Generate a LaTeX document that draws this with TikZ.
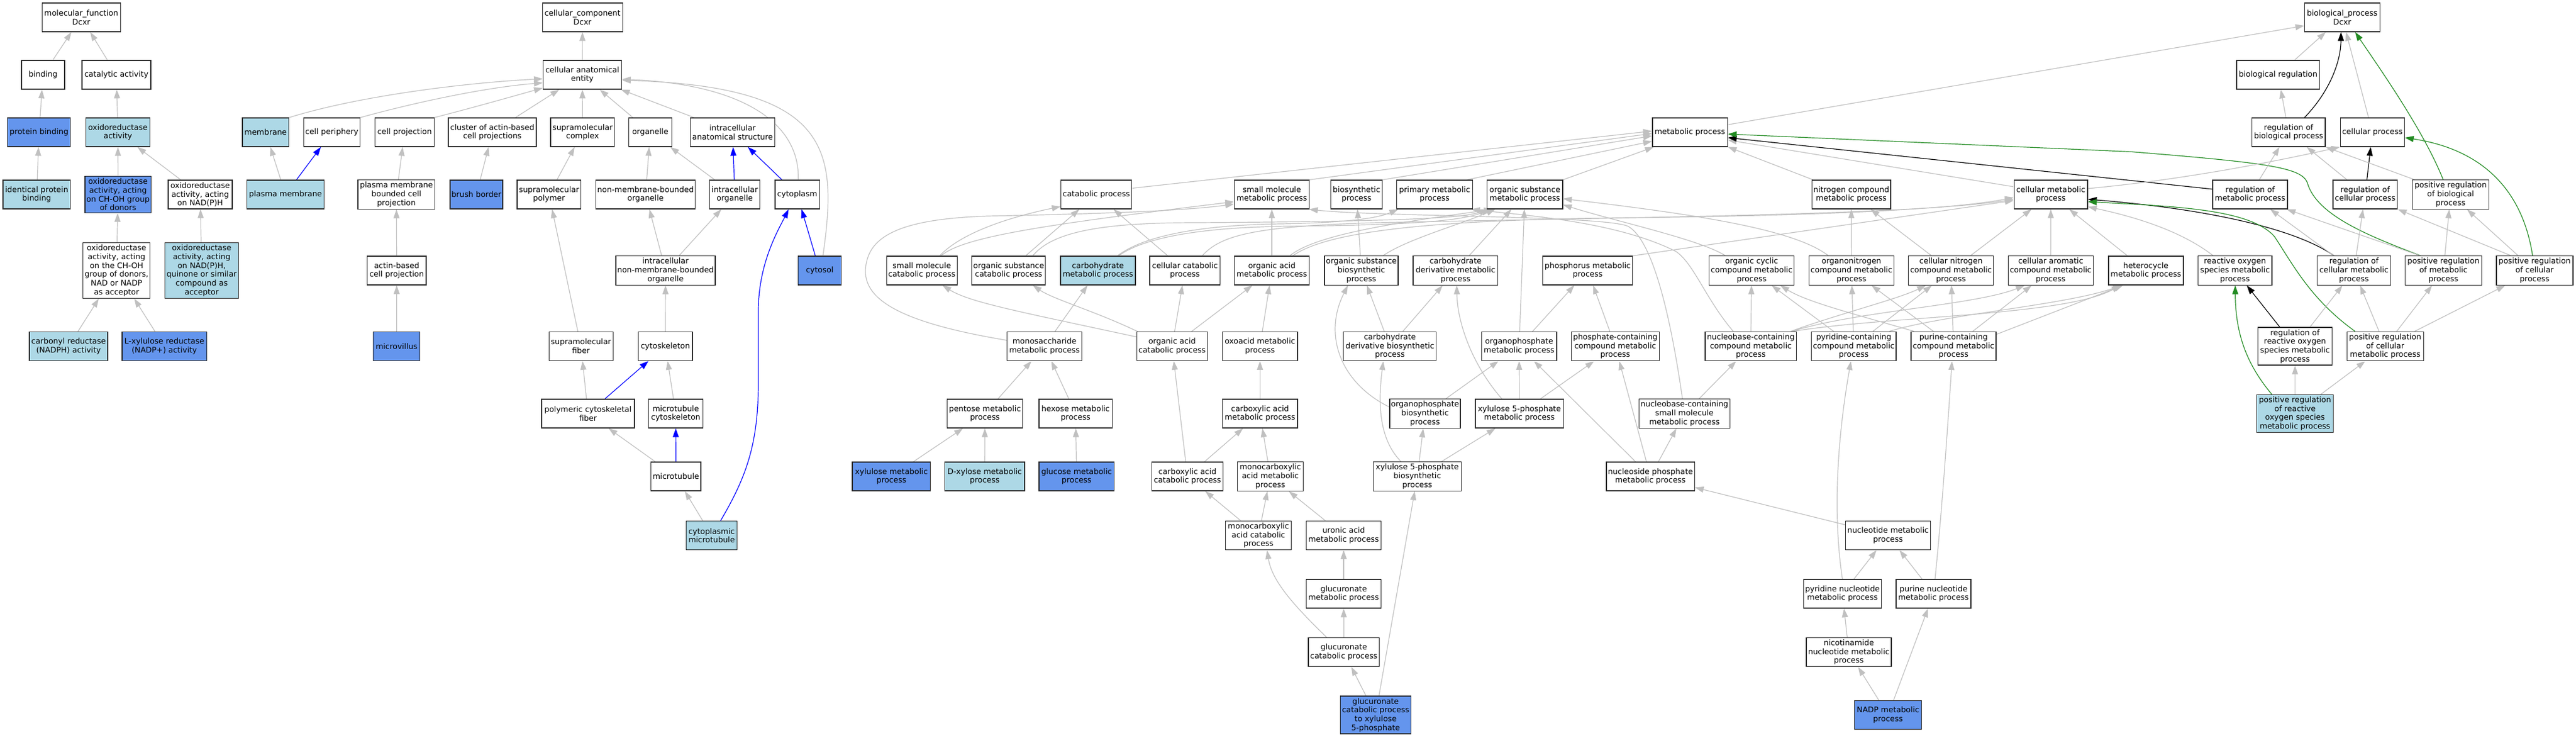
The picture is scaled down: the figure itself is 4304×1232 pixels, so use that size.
\documentclass[tikz,border=0pt]{standalone}
\usepackage{fontspec}
\setmainfont{DejaVu Sans}
\usetikzlibrary{arrows.meta,calc}
\definecolor{egray}{RGB}{192,192,192}
\definecolor{lb}{RGB}{173,216,230}
\definecolor{cf}{RGB}{100,149,237}
\definecolor{fgreen}{RGB}{34,139,34}
\definecolor{nborder}{RGB}{40,40,40}
\pgfdeclarelayer{bglayer}
\pgfdeclarelayer{edgelayer}
\pgfsetlayers{bglayer,edgelayer,main}
\tikzset{
 gn/.style={draw=nborder, line width=1pt, rectangle, fill=white, inner xsep=1pt, inner ysep=2.5pt, align=center, minimum height=36pt, font=\fontsize{9.7}{11}\selectfont, text=black},
 lbfill/.style={fill=lb},
 cffill/.style={fill=cf},
 bwid/.style={minimum width=#1*0.75pt},
 arr/.style={line width=0.9pt, -{Triangle[length=11pt,width=7.5pt]}},
 ge/.style={arr, draw=egray},
 be/.style={arr, draw=blue},
 ke/.style={arr, draw=black},
 gre/.style={arr, draw=fgreen},
}
\begin{document}
\begin{tikzpicture}[x=0.75pt,y=-0.75pt]
\begin{pgfonlayer}{bglayer}
\fill[white] (0,0) rectangle (4304,1232);
\end{pgfonlayer}
\useasboundingbox (0,0) rectangle (4304,1232);
% ---------------- molecular function
\node[gn,bwid=131] (mf) at (135.7,29) {molecular\_function\\Dcxr};
\node[gn,bwid=72] (binding) at (71.9,125) {binding};
\node[gn,bwid=115] (catal) at (194.5,125) {catalytic activity};
\node[gn,cffill,bwid=105] (pbind) at (65.2,221) {protein binding};
\node[gn,lbfill,bwid=107] (oxred) at (197,221) {oxidoreductase\\activity};
\node[gn,lbfill,bwid=112.5] (ident) at (61.3,325) {identical protein\\binding};
\node[gn,cffill,bwid=110.6] (choh) at (197.2,325) {oxidoreductase\\activity, acting\\on CH-OH group\\of donors};
\node[gn,bwid=107] (nadph) at (334.5,325) {oxidoreductase\\activity, acting\\on NAD(P)H};
\node[gn,bwid=112] (nadacc) at (194.7,452) {oxidoreductase\\activity, acting\\on the CH-OH\\group of donors,\\NAD or NADP\\as acceptor};
\node[gn,lbfill,bwid=123] (quin) at (337,452) {oxidoreductase\\activity, acting\\on NAD(P)H,\\quinone or similar\\compound as\\acceptor};
\node[gn,lbfill,bwid=131] (carb) at (114.6,578.5) {carbonyl reductase\\(NADPH) activity};
\node[gn,cffill,bwid=141.4] (lxyl) at (274.6,578.5) {L-xylulose reductase\\(NADP+) activity};
% ---------------- cellular component
\node[gn,bwid=134] (cc) at (973.2,29) {cellular\_component\\Dcxr};
\node[gn,bwid=131] (cae) at (973,125) {cellular anatomical\\entity};
\node[gn,lbfill,bwid=77.6] (membrane) at (443.8,221) {membrane};
\node[gn,bwid=94] (cperi) at (554.5,221) {cell periphery};
\node[gn,bwid=98.5] (cproj) at (676,221) {cell projection};
\node[gn,bwid=147] (cluster) at (822.6,221) {cluster of actin-based\\cell projections};
\node[gn,bwid=106.5] (smc) at (973.3,221) {supramolecular\\complex};
\node[gn,bwid=72] (organelle) at (1086.5,221) {organelle};
\node[gn,bwid=141.5] (ias) at (1224,221) {intracellular\\anatomical structure};
\node[gn,lbfill,bwid=129.5] (pm) at (477,325) {plasma membrane};
\node[gn,bwid=128.7] (pmbcp) at (662.3,325) {plasma membrane\\bounded cell\\projection};
\node[gn,cffill,bwid=88] (brush) at (796,325) {brush border};
\node[gn,bwid=106.5] (smp) at (917.3,325) {supramolecular\\polymer};
\node[gn,bwid=166] (nmbo) at (1078.6,325) {non-membrane-bounded\\organelle};
\node[gn,bwid=83.6] (iorg) at (1227.6,325) {intracellular\\organelle};
\node[gn,bwid=74.3] (cytoplasm) at (1332,325) {cytoplasm};
\node[gn,bwid=98.7] (actin) at (662.8,452) {actin-based\\cell projection};
\node[gn,bwid=166] (inmbo) at (1112,452) {intracellular\\non-membrane-bounded\\organelle};
\node[gn,cffill,bwid=72.6] (cytosol) at (1369.5,452) {cytosol};
\node[gn,cffill,bwid=78] (microvillus) at (662.6,578.5) {microvillus};
\node[gn,bwid=107] (smf) at (970.7,578.5) {supramolecular\\fiber};
\node[gn,bwid=90.6] (cytosk) at (1111.7,578.5) {cytoskeleton};
\node[gn,bwid=155] (pcf) at (982.4,691) {polymeric cytoskeletal\\fiber};
\node[gn,bwid=90.5] (mtcs) at (1129,691) {microtubule\\cytoskeleton};
\node[gn,bwid=83.5] (mt) at (1129.3,796) {microtubule};
\node[gn,lbfill,bwid=85.5] (cmt) at (1189,894.5) {cytoplasmic\\microtubule};
% ---------------- biological process
\node[gn,bwid=125.7] (bp) at (3913.3,29) {biological\_process\\Dcxr};
\node[gn,bwid=138.5] (bioreg) at (3806.3,125) {biological regulation};
\node[gn,bwid=125.4] (metab) at (2823.5,221) {metabolic process};
\node[gn,bwid=122.4] (regbio) at (3823.8,221) {regulation of\\biological process};
\node[gn,bwid=107.2] (cellproc) at (3963.8,221) {cellular process};
\node[gn,bwid=118] (catab) at (1831.8,325) {catabolic process};
\node[gn,bwid=125] (smm) at (2125,325) {small molecule\\metabolic process};
\node[gn,bwid=86.4] (biosyn) at (2266.5,325) {biosynthetic\\process};
\node[gn,bwid=126.4] (primary) at (2397,325) {primary metabolic\\process};
\node[gn,bwid=126] (osm) at (2547.8,325) {organic substance\\metabolic process};
\node[gn,bwid=131.7] (ncm) at (3093.1,325) {nitrogen compound\\metabolic process};
\node[gn,bwid=122.7] (cmp) at (3426.5,325) {cellular metabolic\\process};
\node[gn,bwid=125] (regmet) at (3759.5,325) {regulation of\\metabolic process};
\node[gn,bwid=107.8] (regcell) at (3951.7,325) {regulation of\\cellular process};
\node[gn,bwid=127.6] (posbio) at (4094.5,325) {positive regulation\\of biological\\process};
\node[gn,bwid=118] (smcat) at (1540.2,452) {small molecule\\catabolic process};
\node[gn,bwid=123] (oscat) at (1685.3,452) {organic substance\\catabolic process};
\node[gn,lbfill,bwid=125] (carbm) at (1834.4,452) {carbohydrate\\metabolic process};
\node[gn,bwid=117.5] (cellcat) at (1979.8,452) {cellular catabolic\\process};
\node[gn,bwid=125] (oam) at (2125,452) {organic acid\\metabolic process};
\node[gn,bwid=123] (osb) at (2274.5,452) {organic substance\\biosynthetic\\process};
\node[gn,bwid=141.6] (cdm) at (2431.9,452) {carbohydrate\\derivative metabolic\\process};
\node[gn,bwid=150] (phos) at (2652.7,452) {phosphorus metabolic\\process};
\node[gn,bwid=142] (occ) at (2926.6,452) {organic cyclic\\compound metabolic\\process};
\node[gn,bwid=141.6] (onc) at (3093.4,452) {organonitrogen\\compound metabolic\\process};
\node[gn,bwid=142] (cnc) at (3259.7,452) {cellular nitrogen\\compound metabolic\\process};
\node[gn,bwid=142] (cac) at (3426.3,452) {cellular aromatic\\compound metabolic\\process};
\node[gn,bwid=125] (het) at (3585.3,452) {heterocycle\\metabolic process};
\node[gn,bwid=123.3] (ros) at (3734.2,452) {reactive oxygen\\species metabolic\\process};
\node[gn,bwid=123.3] (regcmp) at (3933,452) {regulation of\\cellular metabolic\\process};
\node[gn,bwid=128] (posmet) at (4082.5,452) {positive regulation\\of metabolic\\process};
\node[gn,bwid=128] (poscell) at (4234.8,452) {positive regulation\\of cellular\\process};
\node[gn,bwid=125] (mono) at (1745.2,578.5) {monosaccharide\\metabolic process};
\node[gn,bwid=118] (oacat) at (1958.3,578.5) {organic acid\\catabolic process};
\node[gn,bwid=125.8] (oxo) at (2105.2,578.5) {oxoacid metabolic\\process};
\node[gn,bwid=155.2] (cdb) at (2322.2,578.5) {carbohydrate\\derivative biosynthetic\\process};
\node[gn,bwid=125.6] (opm) at (2538.1,578.5) {organophosphate\\metabolic process};
\node[gn,bwid=146.8] (pcc) at (2698.8,578.5) {phosphate-containing\\compound metabolic\\process};
\node[gn,bwid=152.4] (nccm) at (2925.2,578.5) {nucleobase-containing\\compound metabolic\\process};
\node[gn,bwid=141.6] (pyc) at (3097.2,578.5) {pyridine-containing\\compound metabolic\\process};
\node[gn,bwid=142] (puc) at (3264,578.5) {purine-containing\\compound metabolic\\process};
\node[gn,bwid=123.8] (regros) at (3834.5,578.5) {regulation of\\reactive oxygen\\species metabolic\\process};
\node[gn,bwid=128.1] (poscmp) at (3985.2,578.5) {positive regulation\\of cellular\\metabolic process};
\node[gn,bwid=126] (pent) at (1645.6,691) {pentose metabolic\\process};
\node[gn,bwid=122.2] (hex) at (1797.1,691) {hexose metabolic\\process};
\node[gn,bwid=125.8] (carbox) at (2105.2,691) {carboxylic acid\\metabolic process};
\node[gn,bwid=118] (opb) at (2381,691) {organophosphate\\biosynthetic\\process};
\node[gn,bwid=147.2] (x5pm) at (2538.6,691) {xylulose 5-phosphate\\metabolic process};
\node[gn,bwid=152.3] (nsm) at (2814.4,691) {nucleobase-containing\\small molecule\\metabolic process};
\node[gn,lbfill,bwid=127.6] (posros) at (3834.5,691) {positive regulation\\of reactive\\oxygen species\\metabolic process};
\node[gn,cffill,bwid=130.8] (xylm) at (1489.4,796) {xylulose metabolic\\process};
\node[gn,lbfill,bwid=133.5] (dxyl) at (1645.2,796) {D-xylose metabolic\\process};
\node[gn,cffill,bwid=125.5] (gluc) at (1798.8,796) {glucose metabolic\\process};
\node[gn,bwid=118.4] (caccat) at (1984,796) {carboxylic acid\\catabolic process};
\node[gn,bwid=110.3] (mcam) at (2122.5,796) {monocarboxylic\\acid metabolic\\process};
\node[gn,bwid=146.8] (x5pb) at (2368,796) {xylulose 5-phosphate\\biosynthetic\\process};
\node[gn,bwid=147.3] (npm) at (2757.5,796) {nucleoside phosphate\\metabolic process};
\node[gn,bwid=110.3] (mcac) at (2102.6,894.5) {monocarboxylic\\acid catabolic\\process};
\node[gn,bwid=125.5] (uronic) at (2245,894.5) {uronic acid\\metabolic process};
\node[gn,bwid=142] (nucl) at (3154.5,894.5) {nucleotide metabolic\\process};
\node[gn,bwid=125.5] (glcm) at (2245,992) {glucuronate\\metabolic process};
\node[gn,bwid=130.2] (pyn) at (3078.3,992) {pyridine nucleotide\\metabolic process};
\node[gn,bwid=125] (pun) at (3230.5,992) {purine nucleotide\\metabolic process};
\node[gn,bwid=118.5] (glcc) at (2245.3,1089.5) {glucuronate\\catabolic process};
\node[gn,bwid=142] (nicot) at (3089,1089.5) {nicotinamide\\nucleotide metabolic\\process};
\node[gn,cffill,bwid=118] (glcx) at (2298.4,1194.5) {glucuronate\\catabolic process\\to xylulose\\5-phosphate};
\node[gn,cffill,bwid=111.8] (nadp) at (3154.5,1194.5) {NADP metabolic\\process};

\begin{pgfonlayer}{edgelayer}
% ---- MF edges
\draw[ge] (binding) -- (mf);
\draw[ge] (catal) -- (mf);
\draw[ge] (pbind) -- (binding);
\draw[ge] (oxred) -- (catal);
\draw[ge] (ident) -- (pbind);
\draw[ge] (choh) -- (oxred);
\draw[ge] (nadph) -- (oxred);
\draw[ge] (nadacc) -- (choh);
\draw[ge] (quin) -- (nadph);
\draw[ge] (carb) -- (nadacc);
\draw[ge] (lxyl) -- (nadacc);
% ---- CC edges
\draw[ge] (cae) -- (cc);
\draw[ge] (membrane.north east) .. controls (600,160) and (780,138) .. ($(cae.west)+(0,6.7)$);
\draw[ge] (cperi.north east) .. controls (690,172) and (810,146) .. ($(cae.west)+(0,13.4)$);
\draw[ge] (cproj.north east) .. controls (790,180) and (860,160) .. ($(cae.west)+(0,22)$);
\draw[ge] (cluster) -- (cae);
\draw[ge] (smc) -- (cae);
\draw[ge] (organelle) -- (cae);
\draw[ge] (ias) -- (cae);
\draw[ge] ($(cytoplasm.north)+(1.7,0)$) .. controls (1337,200) and (1230,140) .. ($(cae.east)+(0,7.5)$);
\draw[ge] ($(cytosol.north)+(5.5,0)$) .. controls (1400,250) and (1390,145) .. ($(cae.east)+(0,9)$);
\draw[ge] (pm) -- (membrane);
\draw[be] (pm) -- (cperi);
\draw[ge] (pmbcp) -- (cproj);
\draw[ge] (actin) -- (pmbcp);
\draw[ge] (microvillus) -- (actin);
\draw[ge] (brush) -- (cluster);
\draw[ge] (smp) -- (smc);
\draw[ge] (nmbo) -- (organelle);
\draw[ge] (iorg) -- (organelle);
\draw[be] (iorg) -- (ias);
\draw[be] (cytoplasm) -- (ias);
\draw[ge] (inmbo) -- (nmbo);
\draw[ge] (inmbo) -- (iorg);
\draw[be] (cytosol) -- (cytoplasm);
\draw[ge] (smf) -- (smp);
\draw[ge] (cytosk) -- (inmbo);
\draw[ge] (pcf) -- (smf);
\draw[be] (pcf) -- (cytosk);
\draw[ge] (mtcs) -- (cytosk);
\draw[ge] (mt) -- (pcf);
\draw[be] (mt) -- (mtcs);
\draw[ge] (cmt) -- (mt);
\draw[be] ($(cmt.north)+(15,0)$) .. controls (1245,800) and (1267,745) .. (1267,640) -- (1267,520) .. controls (1267,440) and (1300,385) .. ($(cytoplasm.south)+(-14.4,0)$);
% ---- BP edges: top
\draw[ge] ($(metab.north east)+(0,12)$) -- ($(bp.west)+(0,14)$);
\draw[ge] (bioreg) -- (bp);
\draw[ke] ($(regbio.north)+(26.6,0)$) .. controls (3895,150) and (3911,100) .. ($(bp.south)+(-2,0)$);
\draw[ge] (cellproc) -- (bp);
\draw[gre] ($(posbio.north)+(-12.5,0)$) .. controls (4050,220) and (3980,120) .. ($(bp.south)+(21.6,0)$);
\draw[ge] (regbio) -- (bioreg);
\draw[ge] ($(catab.east)+(0,-10.5)$) -- ($(metab.west)+(0,-2)$);
\draw[ge] (smm.north east) -- ($(metab.west)+(0,2)$);
\draw[ge] (biosyn.north east) -- ($(metab.west)+(0,6)$);
\draw[ge] ($(primary.north east)+(-10,0)$) -- ($(metab.west)+(0,15)$);
\draw[ge] (osm.north east) -- ($(metab.south west)+(3,0)$);
\draw[ge] (ncm) -- (metab);
\draw[ge] ($(cmp.west)+(0,-13)$) -- ($(metab.east)+(0,13)$);
\draw[ke] ($(regmet.west)+(0,-9)$) -- ($(metab.east)+(0,9)$);
\draw[gre] ($(posmet.north)+(-38.5,0)$) .. controls (3960,395) and (3870,360) .. (3855,305) .. controls (3845,280) and (3790,272) .. (3560,253.5) -- ($(metab.east)+(0,3)$);
\draw[ge] ($(cmp.east)+(0,-10)$) .. controls (3650,300) and (3800,270) .. (cellproc.south west);
\draw[ke] ($(regcmp.north)+(-33.7,0)$) .. controls (3840,385) and (3700,350) .. ($(cmp.east)+(0,8)$);
\draw[gre] ($(poscmp.north)+(-50.3,0)$) .. controls (3860,500) and (3830,440) .. (3800,395) .. controls (3760,350) and (3640,345) .. ($(cmp.east)+(0,12)$);
\draw[ge] ($(ros.north)+(-36.6,0)$) .. controls (3650,390) and (3580,365) .. ($(cmp.east)+(0,20.5)$);
\draw[ge] (het) -- (cmp);
\draw[ge] (cac) -- (cmp);
\draw[ge] (cnc) -- (cmp);
\draw[ge] (cnc) -- (ncm);
\draw[ge] (onc) -- (ncm);
\draw[ge] ($(onc.north)+(-38.7,0)$) .. controls (3000,385) and (2850,360) .. ($(osm.east)+(0,7)$);
\draw[ge] ($(occ.north)+(-44,0)$) .. controls (2840,400) and (2700,370) .. ($(osm.east)+(0,17)$);
\draw[ge] (phos.north east) -- ($(cmp.west)+(0,10)$);
\draw[ge] ($(cellcat.north)+(28.9,0)$) .. controls (2040,392) and (2100,378) .. (2300,372) .. controls (2800,362) and (3200,358) .. ($(cmp.west)+(0,8)$);
\draw[ge] ($(oam.north)+(35,0)$) .. controls (2220,385) and (2400,368) .. (2700,364) .. controls (3000,361) and (3250,352) .. ($(cmp.west)+(0,5)$);
\draw[ge] (oam) -- (smm);
\draw[ge] ($(oam.north)+(30,0)$) .. controls (2200,390) and (2350,370) .. ($(osm.south west)+(10,0)$);
\draw[ge] ($(osb.north)+(36.5,0)$) .. controls (2350,400) and (2440,375) .. ($(osm.south west)+(14,0)$);
\draw[ge] (cdm) -- (osm);
\draw[ge] (opm) -- (osm);
\draw[ge] (osb) -- (biosyn);
\draw[ge] (cdb) -- (osb);
\draw[ge] (cdb) -- (cdm);
\draw[ge] (opm) -- (phos);
\draw[ge] (pcc) -- (phos);
\draw[ge] ($(opb.west)+(0,-11)$) .. controls (2240,640) and (2210,560) .. ($(osb.south)+(-22.5,0)$);
\draw[ge] (opb) -- (opm);
\draw[ge] ($(x5pm.north)+(-29.3,0)$) .. controls (2460,610) and (2435,540) .. ($(cdm.south)+(2,0)$);
\draw[ge] (x5pm) -- (opm);
\draw[ge] (x5pm) -- (pcc);
\draw[ge] ($(x5pb.north)+(-27.2,0)$) .. controls (2310,740) and (2300,690) .. ($(cdb.south)+(-11,0)$);
\draw[ge] (x5pb) -- (opb);
\draw[ge] (x5pb) -- (x5pm);
\draw[ge] (glcx) -- (x5pb);
\draw[ge] (glcx) -- (glcc);
\draw[ge] (glcc) -- (glcm);
\draw[ge] (glcm) -- (uronic);
\draw[ge] (uronic) -- (mcam);
\draw[ge] ($(glcc.north)+(-28.6,0)$) .. controls (2160,1010) and (2125,970) .. ($(mcac.south)+(14.4,0)$);
\draw[ge] (mcac) -- (caccat);
\draw[ge] (mcac) -- (mcam);
\draw[ge] (caccat) -- (oacat);
\draw[ge] (caccat) -- (carbox);
\draw[ge] (mcam) -- (carbox);
\draw[ge] (carbox) -- (oxo);
\draw[ge] (oxo) -- (oam);
\draw[ge] (oacat) -- (cellcat);
\draw[ge] (oacat) -- (oam);
\draw[ge] ($(oacat.north west)+(0,9)$) .. controls (1700,520) and (1620,505) .. ($(smcat.south)+(34.4,0)$);
\draw[ge] ($(oacat.north west)+(2,0)$) .. controls (1830,520) and (1760,500) .. ($(oscat.south)+(40.3,0)$);
\draw[ge] (oscat) -- (catab);
\draw[ge] (cellcat) -- (catab);
\draw[ge] ($(smcat.north)+(29.8,0)$) .. controls (1610,385) and (1700,360) .. ($(catab.west)+(0,20)$);
\draw[ge] ($(smcat.north)+(32,0)$) .. controls (1610,395) and (1750,375) .. ($(smm.west)+(0,12)$);
\draw[ge] ($(mono.west)+(0,-10)$) .. controls (1480,535) and (1430,490) .. (1450,430) .. controls (1465,385) and (1530,365) .. (1650,361) .. controls (1850,357) and (1980,352) .. ($(smm.west)+(0,16)$);
\draw[ge] (mono) -- (carbm);
\draw[ge] ($(carbm.north)+(32.6,0)$) .. controls (1910,395) and (2000,376) .. (2140,374) .. controls (2250,372) and (2300,365) .. ($(primary.south west)+(3,0)$);
\draw[ge] ($(carbm.north)+(34.6,0)$) .. controls (1910,398) and (2000,380) .. (2150,378) .. controls (2350,376) and (2440,370) .. ($(osm.south west)+(6,0)$);
\draw[ge] ($(oscat.north)+(40.3,0)$) .. controls (1760,385) and (1850,372) .. (2000,372) .. controls (2300,370) and (2440,366) .. ($(osm.south west)+(2,0)$);
\draw[ge] (pent) -- (mono);
\draw[ge] (hex) -- (mono);
\draw[ge] (xylm) -- (pent);
\draw[ge] (dxyl) -- (pent);
\draw[ge] (gluc) -- (hex);
\draw[ge] ($(nsm.north)+(-3.4,0)$) .. controls (2790,520) and (2760,400) .. (2720,378) .. controls (2680,360) and (2300,362) .. ($(smm.south east)+(-1,0)$);
\draw[ge] (nsm) -- (nccm);
\draw[ge] ($(nccm.north west)+(47.6,0)$) .. controls (2850,500) and (2830,440) .. (2800,420) .. controls (2700,370) and (2550,360) .. ($(primary.south east)+(-3,0)$);
\draw[ge] (nccm) -- (occ);
\draw[ge] ($(nccm.north east)+(-10,0)$) .. controls (3070,525) and (3170,500) .. ($(cnc.south)+(-42,0)$);
\draw[ge] ($(nccm.north east)+(-8,0)$) .. controls (3100,520) and (3300,510) .. ($(cac.south)+(-43.6,0)$);
\draw[ge] ($(nccm.north east)+(-6,0)$) .. controls (3150,528) and (3450,528) .. ($(het.south)+(-42.3,0)$);
\draw[ge] (pyc) -- (occ);
\draw[ge] (pyc) -- (onc);
\draw[ge] (pyc) -- (cnc);
\draw[ge] ($(pyc.north east)+(-12,0)$) .. controls (3250,525) and (3450,510) .. ($(het.south)+(-40,0)$);
\draw[ge] ($(puc.north west)+(5.6,0)$) .. controls (3100,525) and (3020,505) .. ($(occ.south)+(48,0)$);
\draw[ge] (puc) -- (onc);
\draw[ge] (puc) -- (cnc);
\draw[ge] (puc) -- (cac);
\draw[ge] ($(puc.north east)+(0,5)$) -- ($(het.south)+(-38,0)$);
\draw[ge] (pyn.north) .. controls (3065,880) and (3065,760) .. ($(pyc.south)+(-4.7,0)$);
\draw[ge] ($(pun.north)+(2.5,0)$) .. controls (3245,850) and (3255,700) .. ($(puc.south)+(-2.6,0)$);
\draw[ge] (pyn) -- (nucl);
\draw[ge] (pun) -- (nucl);
\draw[ge] (nicot) -- (pyn);
\draw[ge] (nadp) -- (nicot);
\draw[ge] (nadp) -- (pun);
\draw[ge] (nucl) -- (npm);
\draw[ge] (npm) -- (opm);
\draw[ge] (npm) -- (pcc);
\draw[ge] (npm) -- (nsm);
% ---- regulation edges
\draw[ge] (regmet) -- (regbio);
\draw[ge] (regcell) -- (regbio);
\draw[ke] (regcell) -- (cellproc);
\draw[ge] ($(posbio.north west)+(4,0)$) -- (regbio.south east);
\draw[ge] (regcmp) -- (regmet);
\draw[ge] (regcmp) -- (regcell);
\draw[ge] ($(posmet.north west)+(25.6,0)$) -- ($(regmet.south east)+(-2,0)$);
\draw[ge] (posmet) -- (posbio);
\draw[ge] ($(poscell.north west)+(25,0)$) -- (regcell.south east);
\draw[ge] (poscell) -- (posbio);
\draw[gre] ($(poscell.north)+(-3.4,0)$) .. controls (4215,320) and (4150,250) .. ($(cellproc.east)+(0,9)$);
\draw[ke] (regros) -- (ros);
\draw[ge] (regros) -- (regcmp);
\draw[ge] (poscmp) -- (regcmp);
\draw[ge] (poscmp) -- (posmet);
\draw[ge] (poscmp) -- (poscell);
\draw[gre] ($(posros.north west)+(25.6,0)$) .. controls (3755,610) and (3735,560) .. ($(ros.south)+(0.4,0)$);
\draw[ge] (posros) -- (regros);
\draw[ge] (posros) -- (poscmp);
\end{pgfonlayer}
\end{tikzpicture}
\end{document}
